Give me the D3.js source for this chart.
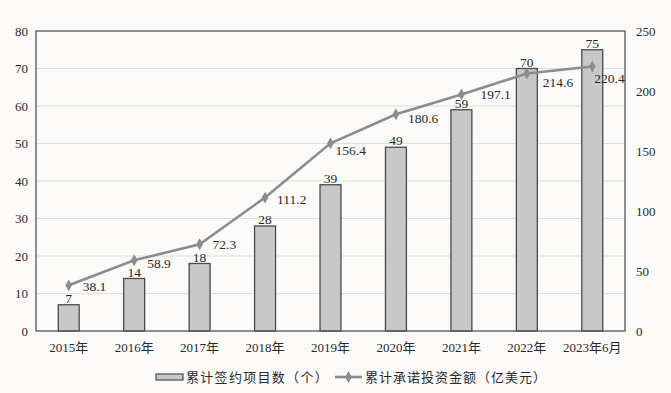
<!DOCTYPE html>
<html><head><meta charset="utf-8">
<script src="https://cdn.jsdelivr.net/npm/d3@7"></script>
<style>
html,body{margin:0;padding:0;background:#fbfaf8;}
svg{display:block;}
text{font-family:"Liberation Serif","Noto Sans CJK SC",serif;fill:#2a2a2a;}
</style></head>
<body>
<svg id="chart" width="671" height="393"></svg>
<script>
const categories = ["2015年","2016年","2017年","2018年","2019年","2020年","2021年","2022年","2023年6月"];
const projects = [7,14,18,28,39,49,59,70,75];
const investment = [38.1,58.9,72.3,111.2,156.4,180.6,197.1,214.6,220.4];
const leftTicks = [0,10,20,30,40,50,60,70,80];
const rightTicks = [0,50,100,150,200,250];
const legendLabels = ["累计签约项目数（个）","累计承诺投资金额（亿美元）"];

const svg = d3.select("#chart");
const m = {l:36, r:46, t:31, b:62};
const W = 671, H = 393;
const x0 = m.l, x1 = W - m.r, y0 = H - m.b, y1 = m.t;

const x = d3.scaleBand().domain(categories).range([x0, x1]).paddingInner(0.68).paddingOuter(0.34);
const yL = d3.scaleLinear().domain([0,80]).range([y0, y1]);
const yR = d3.scaleLinear().domain([0,250]).range([y0, y1]);

// gridlines
svg.append("g").selectAll("line").data(leftTicks.slice(1,-1)).join("line")
  .attr("x1", x0).attr("x2", x1)
  .attr("y1", d=>yL(d)).attr("y2", d=>yL(d))
  .attr("stroke","#dedede").attr("stroke-width",1.2);

// bars
svg.append("g").selectAll("rect").data(projects).join("rect")
  .attr("x",(d,i)=>x(categories[i]))
  .attr("y",d=>yL(d))
  .attr("width",x.bandwidth())
  .attr("height",d=>y0-yL(d))
  .attr("fill","#c8c8c8").attr("stroke","#4a4a4a").attr("stroke-width",1.3);

// bar labels
svg.append("g").selectAll("text").data(projects).join("text")
  .attr("x",(d,i)=>x(categories[i])+x.bandwidth()/2)
  .attr("y",d=>yL(d)-2)
  .attr("text-anchor","middle").attr("font-size",13.5)
  .text(d=>d);

// frame
svg.append("rect").attr("x",x0).attr("y",y1).attr("width",x1-x0).attr("height",y0-y1)
  .attr("fill","none").attr("stroke","#555").attr("stroke-width",1.3);

// axes
const axL = svg.append("g").attr("transform",`translate(${x0},0)`)
  .call(d3.axisLeft(yL).tickValues(leftTicks).tickSize(0).tickPadding(8));
const axR = svg.append("g").attr("transform",`translate(${x1},0)`)
  .call(d3.axisRight(yR).tickValues(rightTicks).tickSize(0).tickPadding(11));
const axB = svg.append("g").attr("transform",`translate(0,${y0})`)
  .call(d3.axisBottom(x).tickSize(0).tickPadding(12));
[axL,axR,axB].forEach(a=>{
  a.select(".domain").remove();
  a.selectAll("text").attr("font-size",13).style("font-family",'"Liberation Serif","Noto Sans CJK SC",serif').attr("fill","#2a2a2a");
});

// line
const cx = i => x(categories[i]) + x.bandwidth()/2;
const line = d3.line().x((d,i)=>cx(i)).y(d=>yR(d));
svg.append("path").datum(investment).attr("d",line)
  .attr("fill","none").attr("stroke","#8c8c8c").attr("stroke-width",2.6);
const diamond = d3.symbol().type(d3.symbolDiamond).size(40);
svg.append("g").selectAll("path").data(investment).join("path")
  .attr("d",diamond)
  .attr("transform",(d,i)=>`translate(${cx(i)},${yR(d)})`)
  .attr("fill","#8c8c8c");

// line labels (offsets are layout only)
const lblOff = [[14,6],[13,8],[13,5],[12,6],[5,12],[12,9],[19,5],[16,14],[2,16]];
svg.append("g").selectAll("text").data(investment).join("text")
  .attr("x",(d,i)=>cx(i)+lblOff[i][0])
  .attr("y",(d,i)=>yR(d)+lblOff[i][1])
  .attr("font-size",13.5)
  .text(d=>d.toFixed(1));

// legend
const lg = svg.append("g");
lg.append("rect").attr("x",156).attr("y",374).attr("width",27).attr("height",6)
  .attr("fill","#c8c8c8").attr("stroke","#4a4a4a").attr("stroke-width",1.2);
lg.append("text").attr("x",186).attr("y",382).attr("font-size",13).attr("letter-spacing",1.3).text(legendLabels[0]);
lg.append("line").attr("x1",335).attr("x2",362).attr("y1",377).attr("y2",377)
  .attr("stroke","#8c8c8c").attr("stroke-width",2.6);
lg.append("path").attr("d",diamond).attr("transform","translate(348.5,377)").attr("fill","#8c8c8c");
lg.append("text").attr("x",365).attr("y",382).attr("font-size",13).attr("letter-spacing",1).text(legendLabels[1]);
</script>
</body></html>
